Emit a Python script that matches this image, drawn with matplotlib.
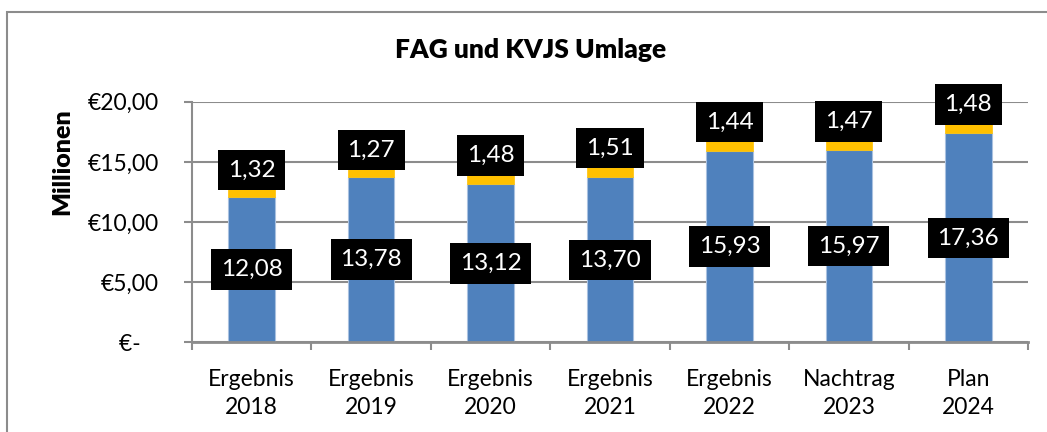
import numpy as np
import matplotlib
matplotlib.use("Agg")
import matplotlib.pyplot as plt
from matplotlib.patches import Rectangle

plt.rcParams['font.family'] = ['Lato', 'DejaVu Sans']

categories = ["Ergebnis\n2018", "Ergebnis\n2019", "Ergebnis\n2020", "Ergebnis\n2021",
              "Ergebnis\n2022", "Nachtrag\n2023", "Plan\n2024"]
fag = [12.08, 13.78, 13.12, 13.70, 15.93, 15.97, 17.36]
kvjs = [1.32, 1.27, 1.48, 1.51, 1.44, 1.47, 1.48]
yticks = [0, 5, 10, 15, 20]
ytick_labels = ["€-   ", "€5,00", "€10,00", "€15,00", "€20,00"]

blue = '#4F81BD'
yellow = '#FFC000'
grid_col = '#8C8C8C'
fs = 16.5

fig = plt.figure(figsize=(10.47, 4.32), dpi=100)
ax = fig.add_axes([0.1834, 0.2076, 0.7985, 0.557])

x = np.arange(len(categories))
w = 0.39
ax.bar(x, fag, w, color=blue, edgecolor='#A9C1E0', linewidth=0.8, zorder=3)
ax.bar(x, kvjs, w, bottom=fag, color=yellow, edgecolor=yellow, linewidth=0.5, zorder=3)

def fmt(v):
    return f"{v:.2f}".replace('.', ',')

box = dict(boxstyle='square,pad=0.4', facecolor='black', edgecolor='none')
for xi, a, b in zip(x, fag, kvjs):
    ax.text(xi, a / 2, fmt(a), ha='center', va='center', color='white',
            fontsize=17.5, bbox=box, zorder=5)
    ax.annotate(fmt(b), xy=(xi, a + b), xytext=(0, 8), textcoords='offset points',
                ha='center', va='center', color='white', fontsize=17.5,
                bbox=box, zorder=5, annotation_clip=False)

ax.set_xlim(-0.5, len(categories) - 0.5)
ax.set_ylim(0, 20)
ax.set_yticks(yticks)
ax.set_yticklabels(ytick_labels, fontsize=fs)
ax.set_xticks(x)
ax.set_xticklabels(categories, fontsize=fs, linespacing=1.45)
ax.set_xticks(np.arange(len(categories) + 1) - 0.5, minor=True)
ax.tick_params(axis='x', which='major', length=0, pad=19)
ax.tick_params(axis='x', which='minor', length=6, width=1.5, color=grid_col)
ax.tick_params(axis='y', length=6, width=1.5, color=grid_col, pad=18)

ax.yaxis.grid(True, color=grid_col, linewidth=1.5, zorder=0)
ax.set_axisbelow(True)
for s in ['top', 'right']:
    ax.spines[s].set_visible(False)
ax.spines['left'].set_color(grid_col)
ax.spines['left'].set_linewidth(1.5)
ax.spines['bottom'].set_color(grid_col)
ax.spines['bottom'].set_linewidth(2)
ax.spines['bottom'].set_zorder(4)

fig.text(0.507, 0.884, "FAG und KVJS Umlage", ha='center', va='center',
         fontsize=19, fontweight='heavy')
fig.text(0.059, 0.625, "Millionen", ha='center', va='center', rotation=90,
         fontsize=18, fontweight='heavy')

fig.patches.append(Rectangle((0.0064, -0.05), 1.1, 0.973 + 0.05,
                             transform=fig.transFigure, fill=False,
                             edgecolor='#8C8C8C', linewidth=1.5))

fig.savefig("out.png", dpi=100)
